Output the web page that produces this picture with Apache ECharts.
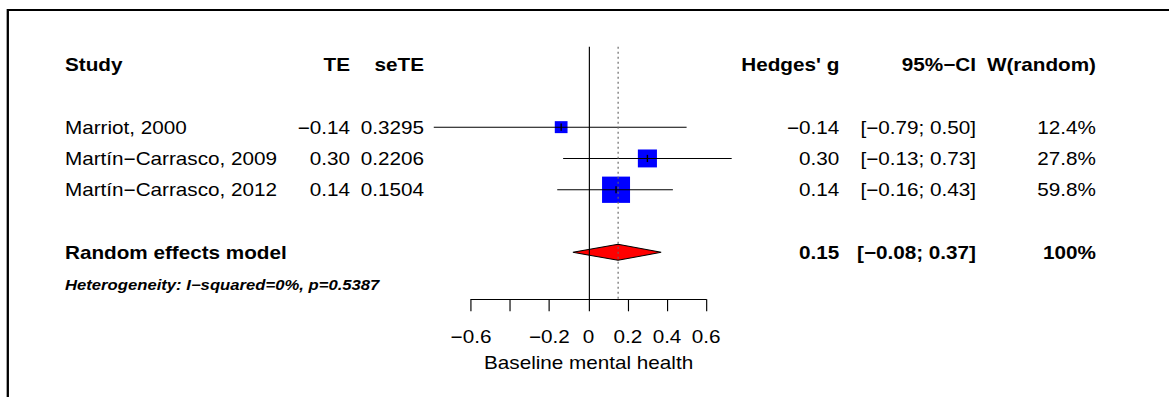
<!DOCTYPE html>
<html><head><meta charset="utf-8">
<script src="https://cdn.jsdelivr.net/npm/echarts@6/dist/echarts.min.js"></script>
<style>
html,body{margin:0;padding:0;background:#fff;overflow:hidden}
#wrap{width:1169px;height:397px;overflow:hidden;position:relative;background:#fff}
#chart{position:absolute;left:0;top:0;height:397px;transform-origin:0 0}
</style></head><body><div id="wrap"><div id="chart"></div></div>
<script>
// ---------- data ----------
const studies   = ['Marriot, 2000', 'Martín\u2212Carrasco, 2009', 'Martín\u2212Carrasco, 2012'];
const te        = [-0.14, 0.30, 0.14];
const seTE      = ['0.3295', '0.2206', '0.1504'];
const ciLow     = [-0.79, -0.13, -0.16];
const ciHigh    = [0.50, 0.73, 0.43];
const weights   = [12.4, 27.8, 59.8];
const pooledLabel = 'Random effects model';
const pooledEst  = 0.15;
const pooledLow  = -0.08;
const pooledHigh = 0.37;
const pooledWeight = '100%';
const hetText   = 'Heterogeneity: I\u2212squared=0%, p=0.5387';
const headers   = ['Study', 'TE', 'seTE', "Hedges' g", '95%\u2212CI', 'W(random)'];
const xTickValues = [-0.6, -0.4, -0.2, 0, 0.2, 0.4, 0.6];
const xTickHidden = [-0.4];
const xAxisTitle = 'Baseline mental health';

// ---------- layout ----------
const S = 1.15;                 // horizontal stretch of the original picture
const W = 1169 / S;
const X = px => px / S;
const FONT = '"Liberation Sans", Arial, Helvetica, sans-serif';
const FS = 18;
const rowHeader = 1, rowStudy0 = 3, rowPooled = 7, rowHet = 8.05;
const colX = {study: 65, te: 350, se: 424, g: 839.3, ci: 976, w: 1096};

const el = document.getElementById('chart');
el.style.width = W + 'px';
el.style.transform = 'scaleX(' + S + ')';
const chart = echarts.init(el, null, {renderer: 'svg', width: W, height: 397});

const fmt = v => (v < 0 ? '\u2212' : '') + Math.abs(v).toFixed(2);
const fmtTick = v => {
  if (Math.abs(v) < 1e-9) return '0';
  return (v < 0 ? '\u2212' : '') + String(Math.round(Math.abs(v) * 10) / 10);
};

// table cells
const cells = [];
const cols = ['study', 'te', 'se', 'g', 'ci', 'w'];
headers.forEach((h, i) => cells.push({row: rowHeader, col: cols[i], text: h, bold: true}));
studies.forEach((s, i) => {
  const r = rowStudy0 + i;
  cells.push({row: r, col: 'study', text: s});
  cells.push({row: r, col: 'te', text: fmt(te[i])});
  cells.push({row: r, col: 'se', text: seTE[i]});
  cells.push({row: r, col: 'g', text: fmt(te[i])});
  cells.push({row: r, col: 'ci', text: '[' + fmt(ciLow[i]) + '; ' + fmt(ciHigh[i]) + ']'});
  cells.push({row: r, col: 'w', text: weights[i].toFixed(1) + '%'});
});
cells.push({row: rowPooled, col: 'study', text: pooledLabel, bold: true});
cells.push({row: rowPooled, col: 'g', text: fmt(pooledEst), bold: true});
cells.push({row: rowPooled, col: 'ci', text: '[' + fmt(pooledLow) + '; ' + fmt(pooledHigh) + ']', bold: true});
cells.push({row: rowPooled, col: 'w', text: pooledWeight, bold: true});
cells.push({row: rowHet, col: 'study', text: hetText, bold: true, italic: true, size: 14.5});

const studyData = studies.map((s, i) => [te[i], rowStudy0 + i, ciLow[i], ciHigh[i], weights[i]]);

const option = {
  animation: false,
  backgroundColor: '#fff',
  grid: {left: X(471), width: X(235.2), top: 46.7, height: 252.6, containLabel: false, outerBoundsMode: 'none'},
  xAxis: {
    type: 'value', min: -0.6, max: 0.6, interval: 0.2,
    splitLine: {show: false},
    axisLine: {show: true, onZero: false, lineStyle: {color: '#000', width: 1}},
    axisTick: {show: true, length: 12, lineStyle: {color: '#000', width: 1}},
    axisLabel: {
      color: '#000', fontSize: FS, fontFamily: FONT, margin: 28,
      formatter: v => xTickHidden.some(h => Math.abs(h - v) < 1e-9) ? '' : fmtTick(v)
    },
    name: xAxisTitle, nameLocation: 'middle', nameGap: 54,
    nameTextStyle: {color: '#000', fontSize: FS, fontFamily: FONT}
  },
  yAxis: {type: 'value', inverse: true, min: 0.43, max: 8.5, show: false},
  graphic: [{
    type: 'polyline', silent: true,
    shape: {points: [[X(7.8), 400], [X(7.8), 10], [W + 5, 10]]},
    style: {stroke: '#000', lineWidth: 2, fill: null}
  }],
  series: [
    {
      type: 'custom', name: 'studies', clip: false,
      data: studyData,
      renderItem: (params, api) => {
        const y = api.coord([0, api.value(1)])[1];
        const cx = api.coord([api.value(0), api.value(1)])[0];
        const lo = api.coord([api.value(2), api.value(1)])[0];
        const hi = api.coord([api.value(3), api.value(1)])[0];
        const w = api.value(4);
        const sh = 3.40 * Math.sqrt(w);
        const sw = 3.62 * Math.sqrt(w) / S;
        return {type: 'group', children: [
          {type: 'rect', shape: {x: cx - sw / 2, y: y - sh / 2, width: sw, height: sh}, style: {fill: '#0000FF'}},
          {type: 'line', shape: {x1: lo, y1: y, x2: hi, y2: y}, style: {stroke: '#000', lineWidth: 1}},
          {type: 'line', shape: {x1: cx, y1: y - 3.6, x2: cx, y2: y + 3.6}, style: {stroke: '#000', lineWidth: 1.2}}
        ]};
      },
      markLine: {
        silent: true, symbol: ['none', 'none'], label: {show: false},
        data: [
          {xAxis: 0, lineStyle: {type: 'solid', color: '#000', width: 1}},
          {xAxis: pooledEst, lineStyle: {type: [2, 3], color: '#666', width: 1}}
        ]
      }
    },
    {
      type: 'custom', name: 'pooled', clip: false,
      data: [[pooledEst, rowPooled, pooledLow, pooledHigh]],
      renderItem: (params, api) => {
        const y = api.coord([0, api.value(1)])[1];
        const cx = api.coord([api.value(0), api.value(1)])[0];
        const lo = api.coord([api.value(2), api.value(1)])[0];
        const hi = api.coord([api.value(3), api.value(1)])[0];
        const h = 8;
        return {type: 'polygon', shape: {points: [[lo, y], [cx, y - h], [hi, y], [cx, y + h]]},
          style: {fill: '#FF0000', stroke: '#000', lineWidth: 1}};
      }
    },
    {
      type: 'custom', name: 'table', clip: false, silent: true,
      data: cells.map((c, i) => [0, c.row, i]),
      renderItem: (params, api) => {
        const c = cells[api.value(2)];
        const y = api.coord([0, c.row])[1];
        return {type: 'text', x: X(colX[c.col]), y: y,
          style: {text: c.text, fill: '#000', fontSize: c.size || FS, fontFamily: FONT,
            fontWeight: c.bold ? 'bold' : 'normal', fontStyle: c.italic ? 'italic' : 'normal',
            align: c.col === 'study' ? 'left' : 'right', verticalAlign: 'middle'}};
      }
    }
  ]
};
chart.setOption(option);
</script></body></html>
